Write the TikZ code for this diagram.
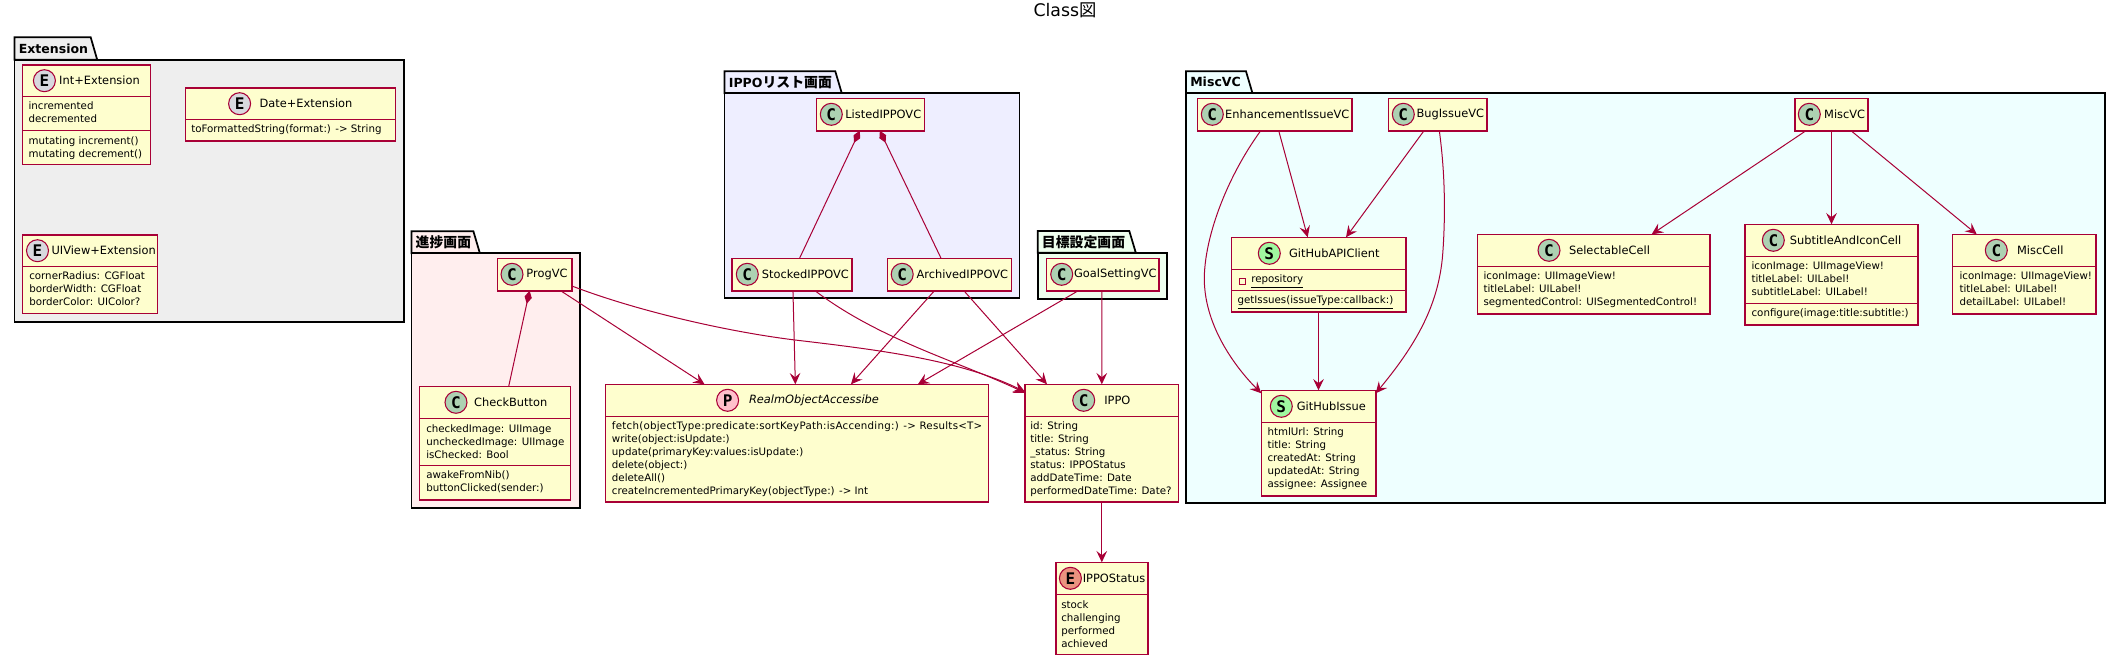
\documentclass[tikz,border=0pt]{standalone}
\usepackage{fontspec}
\setmainfont{DejaVu Sans}
\newfontfamily\cjkfont{Noto Sans CJK JP}
\newfontfamily\glyphfont{DejaVu Sans Mono}
\usetikzlibrary{arrows.meta,calc}
\definecolor{umlred}{HTML}{A80036}
\definecolor{umlfill}{HTML}{FEFECE}
\definecolor{glyphgreen}{HTML}{ADD1B2}
\definecolor{glyphorange}{HTML}{EB937F}
\definecolor{glyphgrey}{HTML}{D8D8DE}
\definecolor{glyphpink}{HTML}{FFC0CB}
\definecolor{glyphlime}{HTML}{A0F8A0}
\definecolor{pkggrey}{HTML}{EEEEEE}
\definecolor{pkgred}{HTML}{FFEEEE}
\definecolor{pkgblue}{HTML}{EEEEFF}
\definecolor{pkggreen}{HTML}{EEFFEE}
\definecolor{pkgcyan}{HTML}{EEFFFF}
\tikzset{
	classnode/.style={draw=umlred,fill=umlfill,line width=1.2pt,inner sep=0pt,outer sep=0pt},
	pkgnode/.style={draw=black,line width=1.3pt,inner sep=0pt,outer sep=0pt},
	glyph/.style={circle,draw=umlred,line width=0.8pt,minimum size=16.5pt,inner sep=0pt,font=\glyphfont\bfseries\fontsize{12}{12}\selectfont},
	glyphC/.style={glyph,fill=glyphgreen},
	glyphE/.style={glyph,fill=glyphorange},
	glyphP/.style={glyph,fill=glyphpink},
	glyphS/.style={glyph,fill=glyphlime},
	nametext/.style={inner sep=0pt,font=\fontsize{8.55}{11}\selectfont},
	membertext/.style={anchor=north west,inner sep=0pt,align=left,font=\fontsize{7.7}{9.75}\selectfont},
	pkgtext/.style={anchor=west,inner sep=0pt,font=\bfseries\fontsize{9.4}{12}\selectfont},
	umlline/.style={draw=umlred,line width=1.1pt},
	rel/.style={draw=umlred,line width=0.75pt,-{Stealth[length=8.5pt,width=8pt,inset=3.2pt]}},
	comp/.style={draw=umlred,line width=0.75pt,{Diamond[length=10pt,width=5.5pt]}-},
}
\def\cjktext#1{{\cjkfont\fontsize{10.4}{12}\selectfont #1}}
\def\pkgbox(#1)[#2](#3,#4:#5)(#6)(#7,#8)#9{
	\draw[pkgnode,fill=#2] (#3,#6) -- (#3,#4) -- (#5,#4) -- ($(#5,#6)+(6.5,0)$) -- cycle;
	\node[pkgnode,fill=#2,minimum width={(#7-#3)*0.75pt},minimum height={(#8-#6)*0.75pt}] (#1) at ({(#3+#7)/2},{(#6+#8)/2}) {};
	\node[pkgtext] (#1title) at ({#3+4},{(#4+#6)/2}) {#9};
}
\def\classbox(#1)(#2,#3)(#4,#5)[#6](#7,#8)#9{
	\node[classnode,minimum width={(#4-#2)*0.75pt},minimum height={(#5-#3)*0.75pt}] (#1) at ({(#2+#4)/2},{(#3+#5)/2}) {};
	\node[glyph#6] (#1glyph) at (#7,{#3+16}) {#6};
	\node[nametext] (#1name) at (#8,{#3+16}) {#9};
	\draw[umlline] (#2,{#3+32}) -- (#4,{#3+32});
}
\def\members(#1)(#2,#3)#4{\node[membertext] (#1) at (#2,#3) {\strut #4};}
\def\divline(#1)(#2){\draw[umlline] (#1.west |- 0,#2) -- (#1.east |- 0,#2);}

\begin{document}
\begin{tikzpicture}[x=0.75pt,y=-0.75pt]
	%%%%% START %%%%%
	\useasboundingbox (0,0) rectangle (2125,664);
	\node[inner sep=0pt,font=\fontsize{13}{16}\selectfont] (title) at (1065,10.5) {Class{\cjkfont 図}};
	
	\begin{scope}[glyphE/.style={glyph,fill=glyphgrey}]
		\pkgbox(extension)[pkggrey](14.5,37.3:90.7)(59.7)(403.7,321.7){Extension}
		\classbox(intext)(22.6,64.7)(150.4,164.3)[E](44.4,99.5){Int+Extension}
		\members(intextattr)(28.3,100.5){incremented\\decremented}
		\divline(intext)(130.3)
		\members(intextfunc)(28.3,134.8){mutating increment()\\mutating decrement()}
		
		\classbox(dateext)(185.6,87.7)(395.3,140.7)[E](239.6,306){Date+Extension}
		\members(dateextfunc)(191,123.5){toFormattedString(format:) -> String}
		
		\classbox(viewext)(22.6,234.7)(157.3,313.3)[E](37.5,103.7){UIView+Extension}
		\members(viewextattr)(29,270.5){cornerRadius: CGFloat\\borderWidth: CGFloat\\borderColor: UIColor?}
	\end{scope}
	
	\pkgbox(progress)[pkgred](411.4,231.3:473.4)(253.3)(579.8,507.7){\cjktext{進捗画面}}
	\classbox(progvc)(497.3,258.3)(571.9,290.7)[C](512,547){ProgVC}
	\classbox(checkbutton)(419.4,386.3)(570.4,499.7)[C](456,510.7){CheckButton}
	\members(checkattr)(426,422.8){checkedImage: UIImage\\uncheckedImage: UIImage\\isChecked: Bool}
	\divline(checkbutton)(465.7)
	\members(checkfunc)(426,469.5){awakeFromNib()\\buttonClicked(sender:)}
	
	\pkgbox(ippolist)[pkgblue](724.6,71.3:835.3)(93.3)(1019.6,298.3){IPPO\cjktext{リスト画面}}
	\classbox(listedvc)(816.5,98.3)(924.6,130.7)[C](831.3,883.3){ListedIPPOVC}
	\classbox(stockedvc)(732.1,258.3)(851.8,290.7)[C](747.3,805.4){StockedIPPOVC}
	\classbox(archivedvc)(887.5,258.3)(1011.6,290.7)[C](902.2,962.3){ArchivedIPPOVC}
	
	\pkgbox(goal)[pkggreen](1037.7,231:1129.3)(252.7)(1166.7,298.7){\cjktext{目標設定画面}}
	\classbox(goalvc)(1046.3,258.3)(1158.7,290.7)[C](1061.7,1115.3){GoalSettingVC}
	
	\classbox(realm)(605.6,384.3)(988.3,501.7)[P](727.6,814){\itshape RealmObjectAccessibe}
	\members(realmfunc)(611.7,420.5){{\addfontfeature{LetterSpace=2.4}fetch(objectType:predicate:sortKeyPath:isAccending:) -> Results<T>}\\write(object:isUpdate:)\\update(primaryKey:values:isUpdate:)\\delete(object:)\\deleteAll()\\createIncrementedPrimaryKey(objectType:) -> Int}
	
	\classbox(ippo)(1025,384.3)(1178.6,501.7)[C](1083.7,1117.3){IPPO}
	\members(ippoattr)(1030,420.5){id: String\\title: String\\\_status: String\\status: IPPOStatus\\addDateTime: Date\\performedDateTime: Date?}
	
	\classbox(ippostatus)(1055.9,562.3)(1147.7,654.3)[E](1070.4,1114){IPPOStatus}
	\members(statusattr)(1061,598.8){stock\\challenging\\performed\\achieved}
	
	\pkgbox(misc)[pkgcyan](1186,71.3:1246)(93.3)(2104.7,503.3){MiscVC}
	\classbox(enhancevc)(1197.3,98.3)(1351.7,130.7)[C](1212.3,1287.2){EnhancementIssueVC}
	\classbox(bugvc)(1388.3,98.3)(1486.7,130.7)[C](1403.3,1450.3){BugIssueVC}
	\classbox(miscvc)(1794.8,98.3)(1868.2,130.7)[C](1809.3,1844.7){MiscVC}
	
	\classbox(apiclient)(1231.3,237.3)(1405.7,311.7)[S](1269.3,1334.3){GitHubAPIClient}
	\draw[draw=umlred,line width=0.6pt] (1239.3,278.3) rectangle (1245.3,284.3);
	\members(apiattr)(1251,273.5){\underline{repository}}
	\divline(apiclient)(290.3)
	\members(apifunc)(1237.3,294.5){\underline{getIssues(issueType:callback:)}}
	
	\classbox(githubissue)(1261.3,390.3)(1375.7,495.7)[S](1281.3,1331.3){GitHubIssue}
	\members(issueattr)(1267.3,426.5){htmlUrl: String\\title: String\\createdAt: String\\updatedAt: String\\assignee: Assignee}
	
	\classbox(selectcell)(1477.3,234.3)(1709.7,313.7)[C](1549,1609.5){SelectableCell}
	\members(selectattr)(1483.3,270.5){iconImage: UIImageView!\\titleLabel: UILabel!\\segmentedControl: UISegmentedControl!}
	
	\classbox(subtitlecell)(1744.8,224.3)(1918.2,324.7)[C](1773.3,1845.5){SubtitleAndIconCell}
	\members(subtitleattr)(1751.3,260.5){iconImage: UIImageView!\\titleLabel: UILabel!\\subtitleLabel: UILabel!}
	\divline(subtitlecell)(303.3)
	\members(subtitlefunc)(1751.3,307.5){configure(image:title:subtitle:)}
	
	\classbox(misccell)(1952.3,234.3)(2095.7,313.7)[C](1996.3,2040.3){MiscCell}
	\members(miscattr)(1959.3,270.5){iconImage: UIImageView!\\titleLabel: UILabel!\\detailLabel: UILabel!}
	
	% relations
	\draw[comp] ([shift={(-10.8,0)}]listedvc.south) -- ([shift={(7.6,0)}]stockedvc.north);
	\draw[comp] ([shift={(9.3,0)}]listedvc.south) -- ([shift={(-8.5,0)}]archivedvc.north);
	\draw[comp] ([shift={(-5,0)}]progvc.south) -- ([shift={(13.8,0)}]checkbutton.north);
	
	\draw[rel] ([shift={(26,0)}]progvc.south) -- ([shift={(-92.4,0)}]realm.north);
	\draw[rel] ([shift={(0,11.5)}]progvc.east) .. controls (640,312) and (730,332) .. (795,340) .. controls (880,350) and (960,360) .. ([shift={(0,7.5)}]ippo.north west);
	\draw[rel] ([shift={(1,0)}]stockedvc.south) -- ([shift={(-1.6,0)}]realm.north);
	\draw[rel] ([shift={(23,0)}]stockedvc.south) .. controls (880,340) and (960,362) .. ([shift={(0,8.5)}]ippo.north west);
	\draw[rel] ([shift={(-15.1,0)}]archivedvc.south) -- ([shift={(54,0)}]realm.north);
	\draw[rel] ([shift={(14.3,0)}]archivedvc.south) -- ([shift={(-54.8,0)}]ippo.north);
	\draw[rel] ([shift={(-24.2,0)}]goalvc.south) -- ([shift={(120.9,0)}]realm.north);
	\draw[rel] ([shift={(-0.7,0)}]goalvc.south) -- (ippo.north);
	\draw[rel] (ippo.south) -- (ippostatus.north);
	
	\draw[rel] ([shift={(4.2,0)}]enhancevc.south) -- ([shift={(-10.8,0)}]apiclient.north);
	\draw[rel] ([shift={(-13.8,0)}]enhancevc.south) .. controls (1225,180) and (1204,240) .. (1204.3,280) .. controls (1205,330) and (1240,372) .. ([shift={(0,3)}]githubissue.north west);
	\draw[rel] ([shift={(-13.5,0)}]bugvc.south) -- ([shift={(27.5,0)}]apiclient.north);
	\draw[rel] ([shift={(1.8,0)}]bugvc.south) .. controls (1444,165) and (1446,205) .. (1443,250) .. controls (1440,300) and (1420,340) .. ([shift={(0,3)}]githubissue.north east);
	\draw[rel] (apiclient.south) -- (githubissue.north);
	\draw[rel] ([shift={(-25.5,0)}]miscvc.south) -- ([shift={(58.2,0)}]selectcell.north);
	\draw[rel] (miscvc.south) -- (subtitlecell.north);
	\draw[rel] ([shift={(19.5,0)}]miscvc.south) -- ([shift={(-47.3,0)}]misccell.north);
	%%%%% END %%%%%
\end{tikzpicture}
\end{document}
